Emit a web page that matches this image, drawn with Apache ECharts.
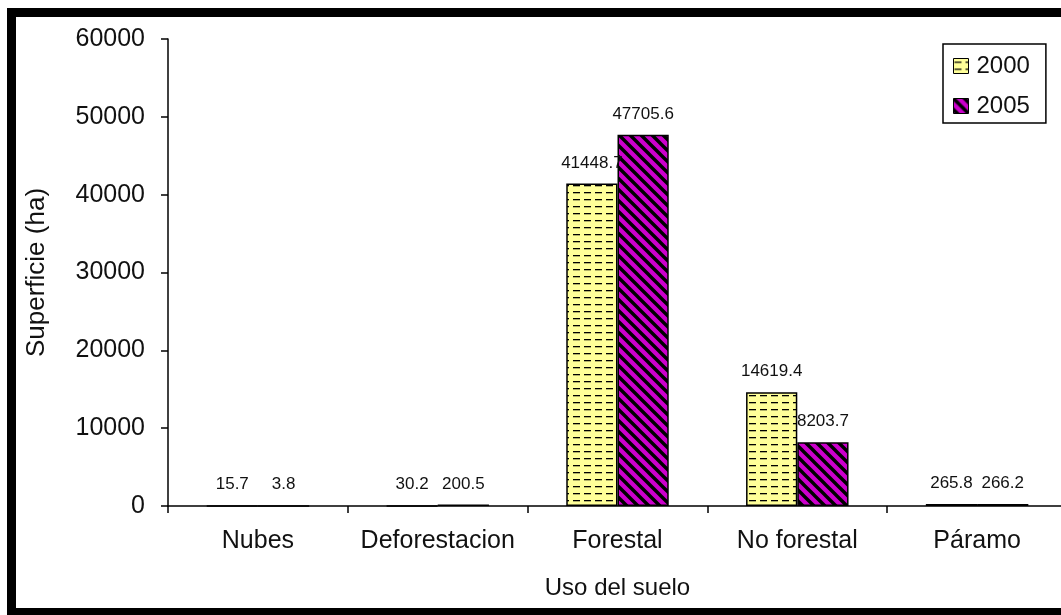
<!DOCTYPE html>
<html>
<head>
<meta charset="utf-8">
<script src="https://cdn.jsdelivr.net/npm/echarts@6/dist/echarts.min.js"></script>
<style>
html,body{margin:0;padding:0;background:#fff;}
#chart{width:1061px;height:615px;}
</style>
</head>
<body>
<div id="chart"></div>
<script>
const categories = ['Nubes', 'Deforestacion', 'Forestal', 'No forestal', 'Páramo'];
const seriesNames = ['2000', '2005'];
const values2000 = [15.7, 30.2, 41448.7, 14619.4, 265.8];
const values2005 = [3.8, 200.5, 47705.6, 8203.7, 266.2];
const yTicks = { min: 0, max: 60000, interval: 10000 };
const xAxisTitle = 'Uso del suelo';
const yAxisTitle = 'Superficie (ha)';

function makeDashPattern() {
  const c = document.createElement('canvas');
  c.width = 11; c.height = 7;
  const g = c.getContext('2d');
  g.fillStyle = '#FFFF99';
  g.fillRect(0, 0, 11, 7);
  g.fillStyle = '#000';
  g.fillRect(1, 3, 7, 1.3);
  return c;
}
function makeStripePattern() {
  const c = document.createElement('canvas');
  c.width = 11; c.height = 11;
  const g = c.getContext('2d');
  g.fillStyle = '#CC00CC';
  g.fillRect(0, 0, 11, 11);
  g.strokeStyle = '#000';
  g.lineWidth = 3.4;
  g.beginPath();
  for (let k = -2; k <= 2; k++) {
    g.moveTo(-6, -6 + k * 11);
    g.lineTo(17, 17 + k * 11);
  }
  g.stroke();
  return c;
}

const chart = echarts.init(document.getElementById('chart'), null, { renderer: 'canvas' });
const font = 'Liberation Sans, Arial, sans-serif';
const fills = [
  { image: makeDashPattern(), repeat: 'repeat' },
  { image: makeStripePattern(), repeat: 'repeat' }
];
const labelCfg = {
  show: true, position: 'top', distance: 12,
  fontSize: 17, fontFamily: font, color: '#111'
};

chart.setOption({
  backgroundColor: '#fff',
  animation: false,
  textStyle: { fontFamily: font },
  grid: { left: 168, width: 899, top: 39, bottom: 109, containLabel: false, outerBoundsMode: 'none' },
  legend: {
    orient: 'vertical',
    left: 943, top: 44,
    padding: [10, 16, 5, 10],
    itemWidth: 15, itemHeight: 15, itemGap: 16,
    icon: 'rect',
    borderColor: '#000', borderWidth: 1.5,
    backgroundColor: '#fff',
    itemStyle: { borderColor: '#000', borderWidth: 1 },
    textStyle: { fontSize: 24, color: '#111', fontFamily: font, padding: [0, 0, 0, 3] },
    data: seriesNames
  },
  xAxis: {
    type: 'category',
    data: categories,
    name: xAxisTitle,
    nameLocation: 'middle',
    nameGap: 70,
    nameTextStyle: { fontSize: 24, color: '#111', fontFamily: font },
    axisLine: { lineStyle: { color: '#000', width: 1.5 } },
    axisTick: { show: true, length: 7, lineStyle: { color: '#000', width: 1.5 } },
    axisLabel: { interval: 0, fontSize: 25, color: '#111', margin: 23, fontFamily: font },
    splitLine: { show: false }
  },
  yAxis: {
    type: 'value',
    min: yTicks.min, max: yTicks.max, interval: yTicks.interval,
    name: yAxisTitle,
    nameLocation: 'middle',
    nameGap: 118,
    nameTextStyle: { fontSize: 26, color: '#111', fontFamily: font },
    axisLine: { show: true, lineStyle: { color: '#000', width: 1.5 } },
    axisTick: { show: true, length: 7, lineStyle: { color: '#000', width: 1.5 } },
    axisLabel: { fontSize: 25, color: '#111', margin: 23, fontFamily: font, formatter: v => String(v) },
    splitLine: { show: false }
  },
  series: [
    {
      name: seriesNames[0], type: 'bar', data: values2000,
      barGap: '0%', barCategoryGap: '43%',
      itemStyle: { color: fills[0], borderColor: '#000', borderWidth: 1.5 },
      label: labelCfg
    },
    {
      name: seriesNames[1], type: 'bar', data: values2005,
      barGap: '0%', barCategoryGap: '43%',
      itemStyle: { color: fills[1], borderColor: '#000', borderWidth: 1.5 },
      label: labelCfg
    }
  ],
  graphic: [
    { type: 'rect', shape: { x: 7, y: 8, width: 9, height: 607 }, style: { fill: '#000' }, silent: true },
    { type: 'rect', shape: { x: 7, y: 8, width: 1061, height: 9 }, style: { fill: '#000' }, silent: true },
    { type: 'rect', shape: { x: 7, y: 608, width: 1061, height: 7 }, style: { fill: '#000' }, silent: true }
  ]
});
</script>
</body>
</html>
